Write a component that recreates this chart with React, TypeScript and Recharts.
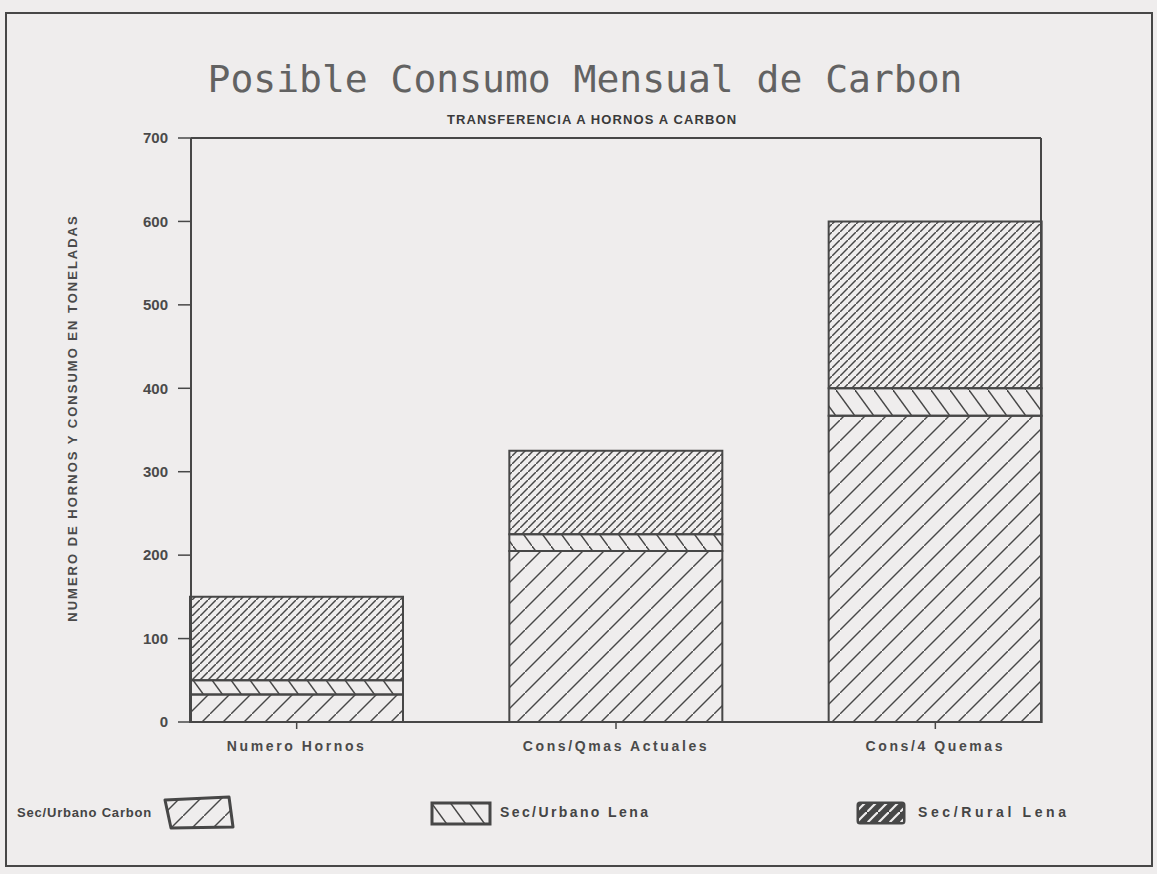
import React from "react";
import { BarChart, Bar, XAxis, YAxis, CartesianGrid, Legend } from "recharts";

// values
const categories = ["Numero Hornos", "Cons/Qmas Actuales", "Cons/4 Quemas"];
const urbanoCarbon = [33, 205, 367];
const urbanoLena = [17, 20, 33];
const ruralLena = [100, 100, 200];
const yTicks = [0, 100, 200, 300, 400, 500, 600, 700];

const seriesNames: Record<string, string> = {
  urbanoCarbon: "Sec/Urbano Carbon",
  urbanoLena: "Sec/Urbano Lena",
  ruralLena: "Sec/Rural Lena",
};

const data = categories.map((name, i) => ({
  name,
  urbanoCarbon: urbanoCarbon[i],
  urbanoLena: urbanoLena[i],
  ruralLena: ruralLena[i],
}));

const INK = "#474747";
const PAPER = "#efeded";
const tickFont = {
  fontFamily: "'Liberation Sans', Arial, sans-serif",
  fontWeight: 700,
  fontSize: 14,
  fill: "#4a4a4a",
};

const fillFor: Record<string, string> = {
  urbanoCarbon: "url(#pCarbon)",
  urbanoLena: "url(#pLena)",
  ruralLena: "url(#pRural)",
};

function LegendContent() {
  const text = {
    position: "absolute" as const,
    top: 14,
    fontFamily: "'Liberation Sans', Arial, sans-serif",
    fontWeight: 700,
    fontSize: 14,
    letterSpacing: 2.4,
    color: "#444",
    whiteSpace: "nowrap" as const,
  };
  return (
    <div style={{ position: "relative", width: 1157, height: 45 }}>
      <div
        style={{
          ...text,
          right: 1157 - 152,
          textAlign: "right",
          fontSize: 13,
          letterSpacing: 0.8,
          top: 15,
        }}
      >
        {seriesNames.urbanoCarbon}
      </div>
      <svg style={{ position: "absolute", left: 162, top: 5 }} width={74} height={36}>
        <polygon
          points="3,5 67,2 71,32 9,33"
          fill={fillFor.urbanoCarbon}
          stroke={INK}
          strokeWidth={3}
          strokeLinejoin="round"
        />
      </svg>
      <svg style={{ position: "absolute", left: 430, top: 11 }} width={62} height={25}>
        <rect x={2} y={2} width={58} height={21} fill={fillFor.urbanoLena} stroke={INK} strokeWidth={3} />
      </svg>
      <div style={{ ...text, left: 500 }}>{seriesNames.urbanoLena}</div>
      <svg style={{ position: "absolute", left: 856, top: 11 }} width={50} height={25}>
        <rect x={2} y={2} width={46} height={20} fill={INK} stroke={INK} strokeWidth={3} rx={2} />
        <rect x={3} y={3} width={44} height={18} fill="url(#pRuralInv)" />
      </svg>
      <div style={{ ...text, left: 918, letterSpacing: 3.6 }}>{seriesNames.ruralLena}</div>
    </div>
  );
}

function YLabel(props: any) {
  const vb = props.viewBox;
  const x = vb.x + 11;
  const y = vb.y + vb.height / 2 - 12;
  return (
    <text
      x={x}
      y={y}
      transform={`rotate(-90 ${x} ${y})`}
      textAnchor="middle"
      dominantBaseline="central"
      style={{
        fontFamily: "'Liberation Sans', Arial, sans-serif",
        fontWeight: 700,
        fontSize: 13,
        letterSpacing: 2,
        fill: "#4a4a4a",
      }}
    >
      NUMERO DE HORNOS Y CONSUMO EN TONELADAS
    </text>
  );
}

export default function App() {
  return (
    <div
      style={{
        position: "absolute",
        left: 0,
        top: 0,
        width: 1157,
        height: 874,
        background: PAPER,
        overflow: "hidden",
      }}
    >
      <div
        style={{
          position: "absolute",
          left: 5,
          top: 12,
          width: 1148,
          height: 855,
          border: `2px solid ${INK}`,
          boxSizing: "border-box",
        }}
      />
      <div
        style={{
          position: "absolute",
          left: 200,
          top: 57,
          width: 770,
          textAlign: "center",
          fontFamily: "'DejaVu Sans Mono', monospace",
          fontSize: 38,
          lineHeight: "44px",
          color: "#626262",
          whiteSpace: "nowrap",
        }}
      >
        Posible Consumo Mensual de Carbon
      </div>
      <div
        style={{
          position: "absolute",
          left: 392,
          top: 112,
          width: 400,
          textAlign: "center",
          fontFamily: "'Liberation Sans', Arial, sans-serif",
          fontWeight: 700,
          fontSize: 13,
          letterSpacing: 1.1,
          color: "#3a3a3a",
          whiteSpace: "nowrap",
        }}
      >
        TRANSFERENCIA A HORNOS A CARBON
      </div>
      <BarChart
        width={1157}
        height={874}
        data={data}
        margin={{ top: 138, right: 116, bottom: 122, left: 61 }}
        style={{ position: "absolute", left: 0, top: 0 }}
      >
        <defs>
          <pattern id="pCarbon" patternUnits="userSpaceOnUse" width={21} height={21}>
            <path d="M-3,24 L24,-3" stroke={INK} strokeWidth={1.4} />
          </pattern>
          <pattern id="pLena" patternUnits="userSpaceOnUse" width={19} height={26}>
            <path d="M-2,-2.7 L21,28.7" stroke={INK} strokeWidth={1.5} />
          </pattern>
          <pattern id="pRural" patternUnits="userSpaceOnUse" width={8} height={8}>
            <path d="M-2,10 L10,-2" stroke={INK} strokeWidth={1.5} />
          </pattern>
          <pattern id="pRuralInv" patternUnits="userSpaceOnUse" width={11} height={11}>
            <path d="M-2,13 L13,-2" stroke={PAPER} strokeWidth={2.2} />
          </pattern>
        </defs>
        {/* top and right edges of the plot frame */}
        <CartesianGrid
          fill="none"
          stroke={INK}
          strokeWidth={2}
          strokeDasharray="0"
          horizontalCoordinatesGenerator={({ offset }: any) => [offset.top]}
          verticalCoordinatesGenerator={({ offset }: any) => [offset.left + offset.width]}
        />
        <XAxis
          dataKey="name"
          height={30}
          interval={0}
          padding={{ left: -54, right: -54 }}
          axisLine={{ stroke: INK, strokeWidth: 2 }}
          tickLine={{ stroke: INK, strokeWidth: 1.5 }}
          tickSize={7}
          tickMargin={12}
          tick={{ ...tickFont, letterSpacing: 2.6 }}
        />
        <YAxis
          width={130}
          domain={[0, 700]}
          ticks={yTicks}
          interval={0}
          axisLine={{ stroke: INK, strokeWidth: 2 }}
          tickLine={{ stroke: INK, strokeWidth: 1.5 }}
          tickSize={13}
          tickMargin={10}
          tick={{ ...tickFont, fontSize: 15 }}
          label={{ content: YLabel }}
        />
        <Legend
          layout="vertical"
          align="center"
          verticalAlign="middle"
          content={LegendContent}
          wrapperStyle={{ left: 0, top: 790, width: 1157, height: 45 }}
        />
        {(["urbanoCarbon", "urbanoLena", "ruralLena"] as const).map((k) => (
          <Bar
            key={k}
            dataKey={k}
            name={seriesNames[k]}
            stackId="a"
            barSize={213}
            fill={fillFor[k]}
            stroke={INK}
            strokeWidth={2}
            isAnimationActive={false}
          />
        ))}
      </BarChart>
    </div>
  );
}
